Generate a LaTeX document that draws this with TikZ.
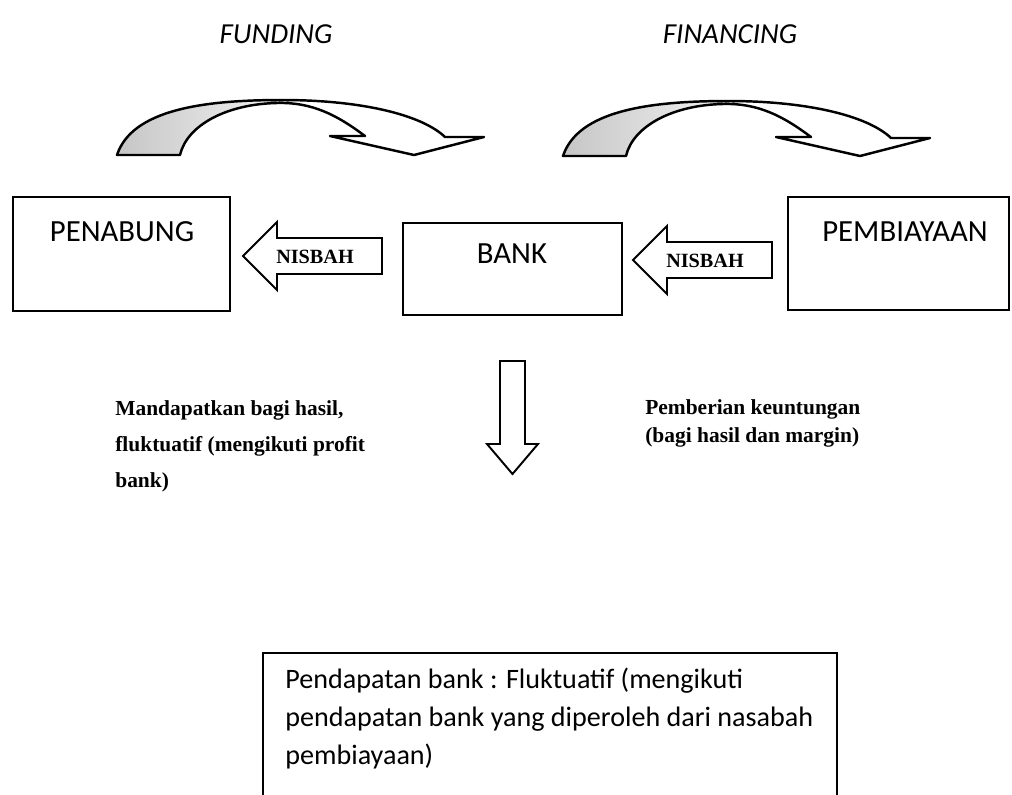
\documentclass[tikz,border=0pt]{standalone}
\usepackage{fontspec}
\setmainfont{Liberation Serif}
\newfontfamily\calibri{Carlito}

\tikzset{
  box/.style={draw, line width=1.1pt, inner sep=0pt},
  boxtitle/.style={font=\calibri\fontsize{17.5}{21}\selectfont, inner sep=0pt},
  heading/.style={font=\calibri\itshape\fontsize{16.5}{20}\selectfont, inner sep=0pt},
  blockline/.style={draw, line width=1.1pt, line join=miter, fill=white},
  nisbahtxt/.style={font=\bfseries\fontsize{11.5}{13}\selectfont, inner sep=0pt},
  note/.style={align=left, inner sep=0pt, anchor=north west},
  % curved block arrow above the boxes, origin at the left foot
  curvedarrow/.pic={
    \fill[left color=gray!45, right color=gray!10] (0,0) -- (63,0)
      .. controls (70,-30) and (110,-51) .. (160,-52) -- (165,-55)
      .. controls (85,-55) and (15,-45) .. (0,0) -- cycle;
    \draw[line width=1.4pt, line join=round] (0,0) -- (63,0)
      .. controls (70,-30) and (110,-51) .. (160,-52)
      .. controls (195,-53) and (220,-40) .. (248,-19) -- (213,-19) -- (297,0)
      -- (367,-18) -- (328,-18) .. controls (305,-40) and (245,-55) .. (165,-55)
      .. controls (85,-55) and (15,-45) .. (0,0) -- cycle;
  },
  % left pointing block arrow, origin at the tip
  nisbaharrow/.pic={
    \path[blockline] (0,0) -- (34,-34) -- (34,-18) -- (139,-18) -- (139,18)
      -- (34,18) -- (34,34) -- cycle;
  }
}

\begin{document}
\begin{tikzpicture}[x=0.02cm, y=-0.02cm]
  \useasboundingbox (0,0) rectangle (1012,795);
  \clip (0,0) rectangle (1012,795);

  \node[heading] (funding) at (276,34) {FUNDING};
  \node[heading] (financing) at (730,34) {FINANCING};
  \pic (fundarrow) at (117,155) {curvedarrow};
  \pic (finarrow) at (563,156) {curvedarrow};

  % the three parties
  \node[box, minimum width=4.34cm, minimum height=2.28cm] (penabung) at (121.5,254) {};
  \node[box, minimum width=4.38cm, minimum height=1.84cm] (bank) at (512.5,269) {};
  \node[box, minimum width=4.42cm, minimum height=2.26cm] (pembiayaan) at (898.5,253.5) {};
  \node[boxtitle] (penabungtxt) at (122,232) {PENABUNG};
  \node[boxtitle] (banktxt) at (512,254) {BANK};
  \node[boxtitle] (pembiayaantxt) at (905,232) {PEMBIAYAAN};

  % nisbah flows back to the left
  \pic (nisbahleftarrow) at (243,256) {nisbaharrow};
  \pic (nisbahrightarrow) at (633,260) {nisbaharrow};
  \node[nisbahtxt] (nisbahleft) at (315,257) {NISBAH};
  \node[nisbahtxt] (nisbahright) at (705,261) {NISBAH};

  \path[blockline] (500,361) -- (525,361) -- (525,444) -- (538,444) -- (512.5,474)
    -- (487,444) -- (500,444) -- cycle;

  \node[note, font=\bfseries\fontsize{12.2}{20.5}\selectfont] (mandapat) at (115,400)
    {Mandapatkan bagi hasil,\\fluktuatif (mengikuti profit\\bank)};
  \node[note, font=\bfseries\fontsize{12.2}{15.9}\selectfont] (pemberian) at (645,399)
    {Pemberian keuntungan\\(bagi hasil dan margin)};

  \node[box, anchor=north west, minimum width=11.48cm, minimum height=3.4cm] (pendapatan) at (262,652) {};
  \node[note, font=\calibri\fontsize{16}{21.5}\selectfont] (pendapatantxt) at (285,668)
    {Pendapatan bank : Fluktuatif (mengikuti\\pendapatan bank yang diperoleh dari nasabah\\pembiayaan)};
\end{tikzpicture}
\end{document}
